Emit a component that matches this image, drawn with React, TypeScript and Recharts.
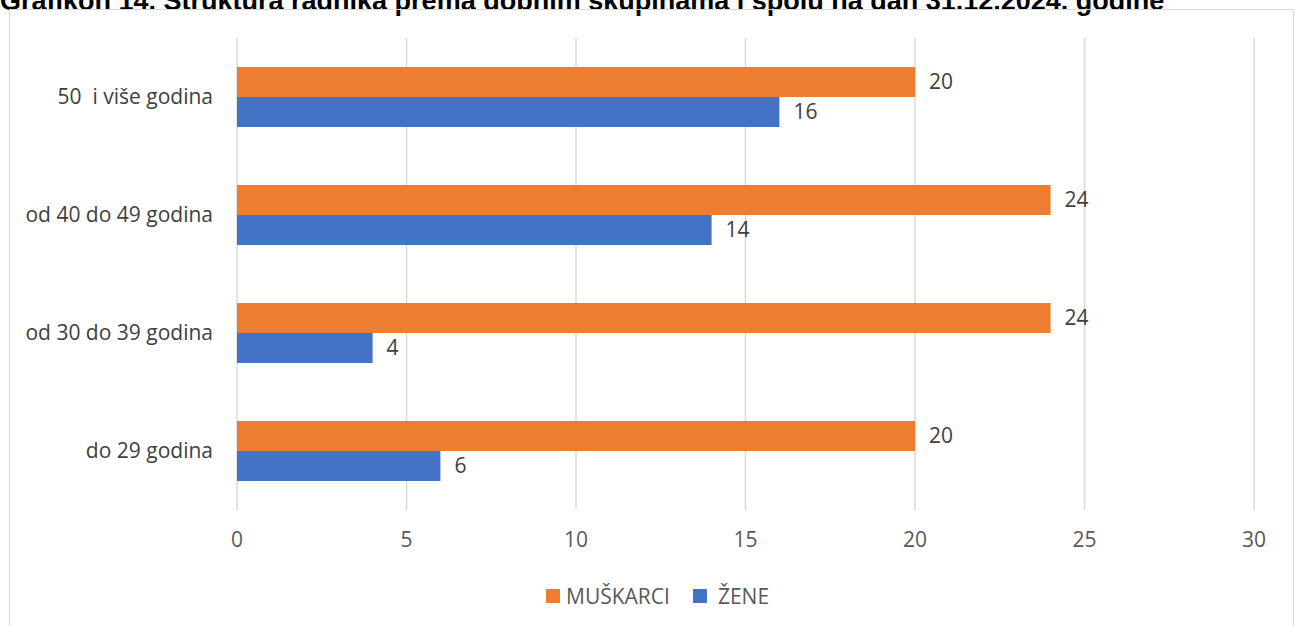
import React from "react";
import { BarChart, Bar, XAxis, YAxis, CartesianGrid, LabelList } from "recharts";

const categories = ["50\u00A0 i više godina", "od 40 do 49 godina", "od 30 do 39 godina", "do 29 godina"];
const muskarci = [20, 24, 24, 20];
const zene = [16, 14, 4, 6];
const xTicks = [0, 5, 10, 15, 20, 25, 30];

const title = "Grafikon 14. Struktura radnika prema dobnim skupinama i spolu na dan 31.12.2024. godine";

const ORANGE = "#ED7D31";
const BLUE = "#4472C4";
const FONT = "'Open Sans', 'Noto Sans', sans-serif";

const data = categories.map((name, i) => ({ name, muskarci: muskarci[i], zene: zene[i] }));

export default function App() {
  return (
    <div style={{ position: "absolute", left: 0, top: 0, width: 1296, height: 626, background: "#fff", overflow: "hidden" }}>
      <div
        style={{
          position: "absolute",
          left: 0,
          top: -12,
          fontFamily: "'Liberation Sans', Arial, sans-serif",
          fontWeight: 700,
          fontSize: 27,
          lineHeight: "27px",
          whiteSpace: "nowrap",
          color: "#000",
        }}
      >
        {title}
      </div>
      <div
        style={{
          position: "absolute",
          left: 9,
          top: 9,
          width: 1285,
          height: 640,
          border: "1px solid #d9d9d9",
          boxSizing: "border-box",
        }}
      />
      <div style={{ position: "absolute", left: 0, top: 0 }}>
        <BarChart
          width={1296}
          height={560}
          data={data}
          layout="vertical"
          margin={{ top: 38, right: 42, left: 0, bottom: 0 }}
          barSize={30}
          barGap={0}
        >
          <CartesianGrid horizontal={false} stroke="#d9d9d9" strokeWidth={1.5} />
          <XAxis
            type="number"
            domain={[0, 30]}
            ticks={xTicks}
            tickLine={false}
            axisLine={false}
            height={50}
            tickMargin={16}
            tick={{ fill: "#595959", fontSize: 21, fontFamily: FONT }}
            interval={0}
          />
          <YAxis
            type="category"
            dataKey="name"
            width={237}
            tickLine={false}
            axisLine={false}
            tickMargin={18}
            tick={{ fill: "#404040", fontSize: 21, fontFamily: FONT }}
            interval={0}
          />
          <Bar dataKey="muskarci" name="MUŠKARCI" fill={ORANGE} isAnimationActive={false}>
            <LabelList dataKey="muskarci" position="right" offset={14} fill="#404040" fontSize={21} fontFamily={FONT} />
          </Bar>
          <Bar dataKey="zene" name="ŽENE" fill={BLUE} isAnimationActive={false}>
            <LabelList dataKey="zene" position="right" offset={14} fill="#404040" fontSize={21} fontFamily={FONT} />
          </Bar>
        </BarChart>
      </div>
      <div
        style={{
          position: "absolute",
          left: 546,
          top: 582,
          display: "flex",
          alignItems: "center",
          fontFamily: FONT,
          fontSize: 21,
          lineHeight: "28px",
          color: "#595959",
        }}
      >
        <span style={{ width: 14, height: 14, background: ORANGE, display: "inline-block", marginRight: 6 }} />
        <span style={{ marginRight: 23 }}>MUŠKARCI</span>
        <span style={{ width: 14, height: 14, background: BLUE, display: "inline-block", marginRight: 11 }} />
        <span>ŽENE</span>
      </div>
    </div>
  );
}
